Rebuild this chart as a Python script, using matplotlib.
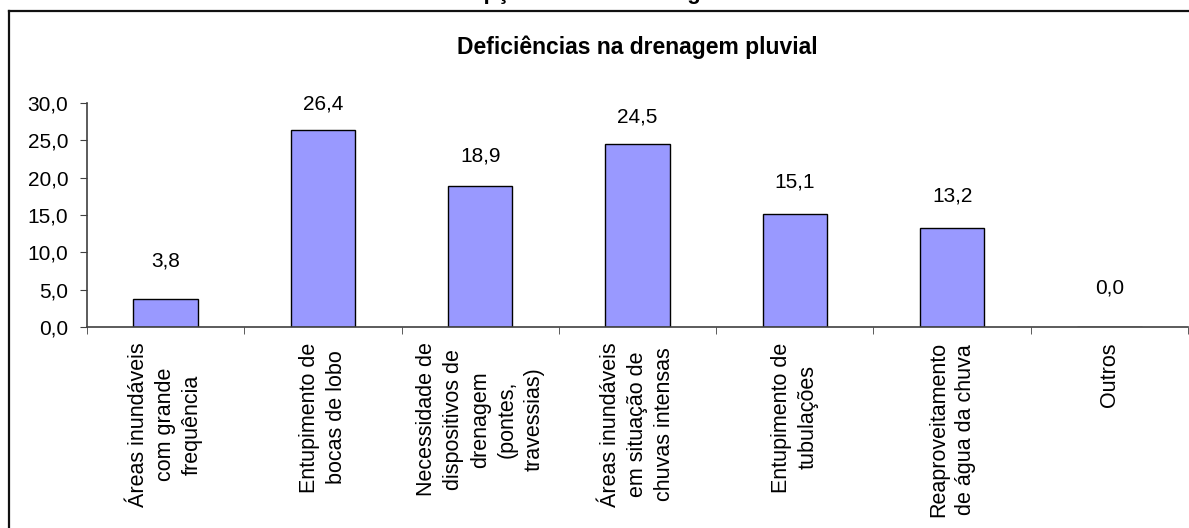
import matplotlib.pyplot as plt
from matplotlib.lines import Line2D
import numpy as np

plt.rcParams['font.family'] = ['Liberation Sans', 'DejaVu Sans']

# dados
categorias = [
    "Áreas inundáveis\ncom grande\nfrequência",
    "Entupimento de\nbocas de lobo",
    "Necessidade de\ndispositivos de\ndrenagem\n(pontes,\ntravessias)",
    "Áreas inundáveis\nem situação de\nchuvas intensas",
    "Entupimento de\ntubulações",
    "Reaproveitamento\nde água da chuva",
    "Outros",
]
valores = [3.8, 26.4, 18.9, 24.5, 15.1, 13.2, 0.0]
yticks = [0, 5, 10, 15, 20, 25, 30]

W, H = 1189, 528
fig = plt.figure(figsize=(W / 100, H / 100), dpi=100)
ax = fig.add_axes([87 / W, 1 - 327 / H, (1188 - 87) / W, (327 - 103) / H])

x = np.arange(len(valores))
ax.bar(x, valores, width=0.41, color='#9999FF', edgecolor='black', linewidth=1)

# rotulos de dados (no original ficam um pouco mais altos nas barras baixas)
for xi, v in zip(x, valores):
    ax.annotate(f"{v:.1f}".replace('.', ','), (xi, v), xytext=(0, 30 - 0.5 * v),
                textcoords='offset pixels', ha='center', va='bottom', fontsize=15)

ax.set_xlim(-0.5, len(valores) - 0.5)
ax.set_ylim(0, 30)
ax.set_yticks(yticks)
ax.set_yticklabels([f"{t:.1f}".replace('.', ',') for t in yticks], fontsize=15)

ax.set_xticks(x)
ax.set_xticklabels(categorias, rotation=90, ha='center', va='top',
                   multialignment='center', fontsize=15.5, linespacing=1.38)
ax.set_xticks(np.arange(len(valores) + 1) - 0.5, minor=True)
ax.tick_params(axis='x', which='major', length=0, pad=11)
ax.tick_params(axis='x', which='minor', length=5, direction='out', color='#404040')
ax.tick_params(axis='y', length=5, direction='out', color='#404040', pad=8.5)

for s in ['top', 'right']:
    ax.spines[s].set_visible(False)
for s in ['left', 'bottom']:
    ax.spines[s].set_color('#404040')
    ax.spines[s].set_linewidth(1.2)

# moldura do grafico (cortada a direita e embaixo)
fig.add_artist(Line2D([9 / W, 1], [1 - 11 / H, 1 - 11 / H], color='#111111', lw=1.6))
fig.add_artist(Line2D([9 / W, 9 / W], [0, 1 - 11 / H], color='#111111', lw=1.6))

fig.text(637 / W, 1 - 47 / H, "Deficiências na drenagem pluvial", ha='center',
         va='center', fontsize=16.5, fontweight='bold')
# titulo de cima, quase todo fora da imagem (so aparecem as pernas das letras)
fig.text(578 / W, 1 + 1 / H, "Percepção sobre a drenagem", ha='center',
         va='baseline', fontsize=16, fontweight='bold')

fig.savefig('out.png', dpi=100)
